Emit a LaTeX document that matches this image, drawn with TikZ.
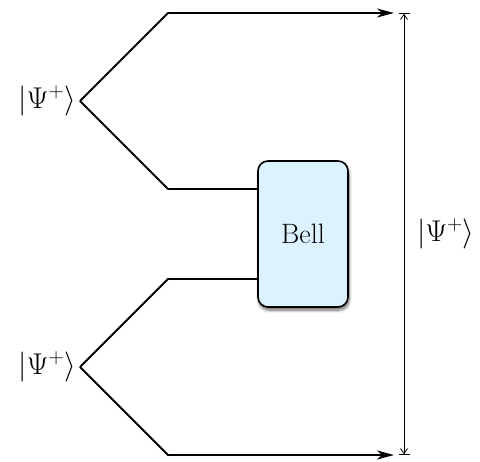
\RequirePackage{fix-cm}
\documentclass[tikz,border=0pt]{standalone}
\usetikzlibrary{arrows.meta,shadows.blur}
\definecolor{bellfill}{RGB}{221,242,255}
\begin{document}
\begin{tikzpicture}[x=1pt,y=-1pt,
  wire/.style={line width=1.8pt},
  big/.style={-{Stealth[length=17pt,width=9pt,inset=5pt]}},
  lbl/.style={font=\fontsize{30}{34}\selectfont, inner sep=0pt},
  bellbox/.style={draw, line width=1.6pt, rounded corners=10pt, fill=bellfill,
    minimum width=90pt, minimum height=146pt, font=\fontsize{28}{32}\selectfont,
    blur shadow={shadow xshift=1pt, shadow yshift=-3pt, shadow blur steps=8, shadow blur radius=3pt, shadow opacity=60}},
  meas/.style={line width=0.8pt,
    {Bar[width=11pt]Straight Barb[length=5pt,width=7pt]}-{Straight Barb[length=5pt,width=7pt]Bar[width=11pt]}}
]
\useasboundingbox (0,0) rectangle (480,462);
% sources
\coordinate (s1) at (80,101);
\coordinate (s2) at (80,367);
\node[lbl, anchor=east] (l1) at (76,101) {$|\Psi^+\rangle$};
\node[lbl, anchor=east] (l2) at (76,367) {$|\Psi^+\rangle$};
% bends
\coordinate (a1) at (168,13);
\coordinate (b1) at (168,189);
\coordinate (a2) at (168,279);
\coordinate (b2) at (168,455);
\coordinate (e1) at (394,13);
\coordinate (e2) at (394,455);
% bell
\node[bellbox] (bell) at (303,234) {Bell};
\draw[wire, big] (s1) -- (a1) -- (e1);
\draw[wire] (s1) -- (b1) -- (b1 -| bell.west);
\draw[wire] (s2) -- (a2) -- (a2 -| bell.west);
\draw[wire, big] (s2) -- (b2) -- (e2);
% measure
\coordinate (m1) at (404,13);
\coordinate (m2) at (404,455);
\draw[meas] (m1) -- (m2);
\node[lbl, anchor=west] (l3) at (417,234) {$|\Psi^+\rangle$};
\end{tikzpicture}
\end{document}
